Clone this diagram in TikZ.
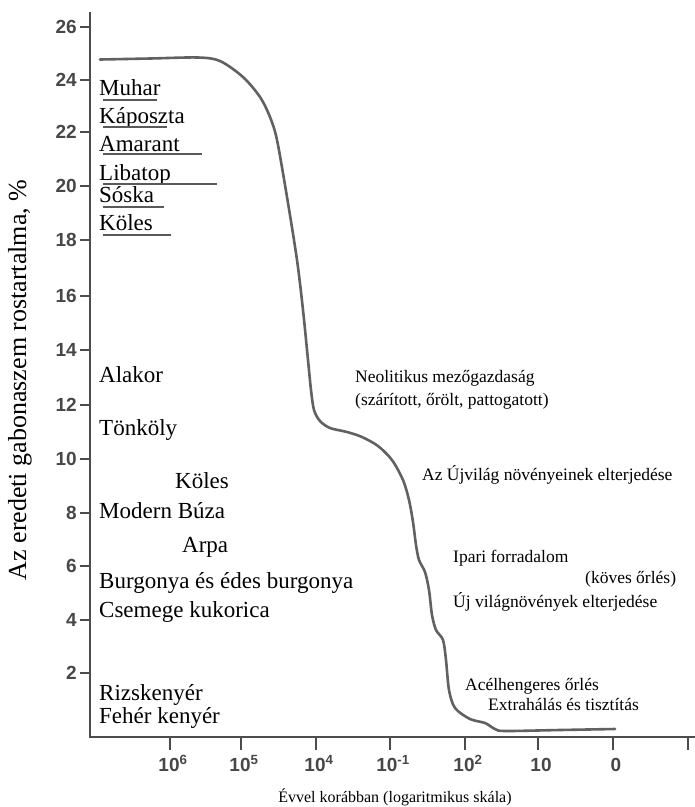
\documentclass[tikz,border=0pt]{standalone}
\usepackage{fontspec}
\setmainfont{Liberation Serif}
\newfontfamily\ticksans{Liberation Sans}

\tikzset{
  axisline/.style={line width=1.8pt, draw=black!70},
  fibrecurve/.style={line width=2.6pt, draw=black!62, line join=round, line cap=round},
  underbar/.style={line width=1.3pt, draw=black!65},
  crop/.style={anchor=base west, inner sep=0pt, font=\fontsize{23}{23}\selectfont},
  event/.style={anchor=base west, inner sep=0pt, font=\fontsize{17.5}{17.5}\selectfont},
  ticklab/.style={inner sep=0pt, text=black!72, font=\ticksans\bfseries\fontsize{19}{19}\selectfont},
}

\begin{document}
\begin{tikzpicture}[x=1pt,y=-1pt]
\useasboundingbox (0,0) rectangle (695,807);
% axes
\draw[axisline] (90,12) -- (90,737) -- (695,737);
\foreach \v/\y in {26/27,24/80,22/132,20/186,18/240,16/296,14/350,12/405,10/459,8/513,6/566,4/620,2/673}
  {\draw[axisline] (80,\y) -- (90,\y);
   \node[ticklab, anchor=east] (ytick\v) at (77,\y) {\v};}
\foreach \x/\lab [count=\i] in {170/10\textsuperscript{6},241/10\textsuperscript{5},316/10\textsuperscript{4},
    390/10\textsuperscript{-1},465/10\textsuperscript{2},538/10,613/0,688/{}}
  {\draw[axisline] (\x,737) -- (\x,750);
   \node[ticklab, anchor=base] (xtick\i) at (\x+3,771) {\lab};}
\node[rotate=90, font=\fontsize{26}{26}\selectfont] (ylab) at (20,380) {Az eredeti gabonaszem rostartalma, \%};
\node[font=\fontsize{16}{16}\selectfont] (xlab) at (395,797) {Évvel korábban (logaritmikus skála)};

% fibre content curve
\draw[fibrecurve] plot[smooth, tension=0.5] coordinates {(100,59.5) (150,58.5) (198,57.5) (220,61)
  (243,77) (260,97) (270,117) (277,140) (287,197) (297,260) (303,310) (308,360) (311,390)
  (314,410) (320,421) (330,428) (347,432) (362,437) (378,446) (392,460) (403,480) (409,500)
  (413,522) (416,545) (419,560) (425,572) (429,590) (432,615) (436,630) (443,640) (446,660)
  (449,690) (455,708) (470,719) (485,723) (495,729) (505,731) (560,730) (615,729)};

% crops, upper group
\node[crop] (muhar) at (99,95) {Muhar};
\node[crop] (kaposzta) at (99,123) {Káposzta};
\node[crop] (amarant) at (99,151) {Amarant};
\node[crop] (libatop) at (99,180) {Libatop};
\node[crop] (soska) at (99,202) {Sóska};
\node[crop] (koles) at (99,230) {Köles};
\draw[underbar] (103,100) -- (157,100);
\draw[underbar] (103,127) -- (167,127);
\draw[underbar] (103,154) -- (202,154);
\draw[underbar] (103,184) -- (217,184);
\draw[underbar] (103,207) -- (164,207);
\draw[underbar] (103,235) -- (171,235);

% crops, lower group
\node[crop] (alakor) at (99,382) {Alakor};
\node[crop] (tonkoly) at (99,435) {Tönköly};
\node[crop] (koles2) at (175,488) {Köles};
\node[crop] (buza) at (99,518) {Modern Búza};
\node[crop] (arpa) at (182,552) {Arpa};
\node[crop] (burgonya) at (99,588) {Burgonya és édes burgonya};
\node[crop] (kukorica) at (99,617) {Csemege kukorica};
\node[crop] (rizs) at (99,700) {Rizskenyér};
\node[crop] (feher) at (99,723) {Fehér kenyér};

% events
\node[event] (neolit) at (355,382) {Neolitikus mezőgazdaság};
\node[event] (szaritott) at (355,405) {(szárított, őrölt, pattogatott)};
\node[event] (ujvilag) at (422,480) {Az Újvilág növényeinek elterjedése};
\node[event] (ipari) at (453,562) {Ipari forradalom};
\node[event] (koves) at (585,583) {(köves őrlés)};
\node[event] (ujnoveny) at (453,607) {Új világnövények elterjedése};
\node[event] (acel) at (465,690) {Acélhengeres őrlés};
\node[event] (extra) at (488,710) {Extrahálás és tisztítás};
\end{tikzpicture}
\end{document}
